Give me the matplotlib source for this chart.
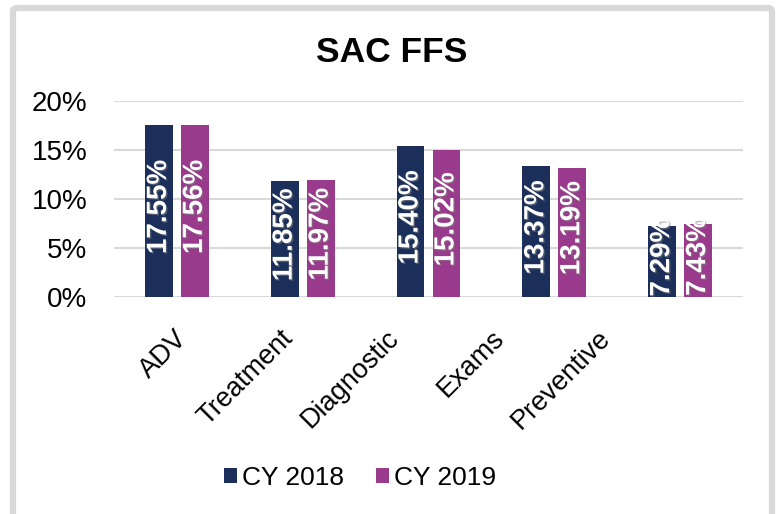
import matplotlib.pyplot as plt
import matplotlib.patheffects as pe
from matplotlib.patches import FancyBboxPatch
from matplotlib.ticker import PercentFormatter
from matplotlib.transforms import ScaledTranslation
import numpy as np

plt.rcParams['font.family'] = ['Liberation Sans', 'DejaVu Sans']

categories = ['ADV', 'Treatment', 'Diagnostic', 'Exams', 'Preventive']
cy2018 = np.array([17.55, 11.85, 15.40, 13.37, 7.29]) / 100
cy2019 = np.array([17.56, 11.97, 15.02, 13.19, 7.43]) / 100

navy = '#1B2F5A'
purple = '#993A8C'
grid_gray = '#D9D9D9'

fig = plt.figure(figsize=(7.78, 5.14), dpi=100)
ax = fig.add_axes([0.1465, 0.4222, 0.8085, 0.3813])

# outer chart border (bottom edge runs off the image)
border = FancyBboxPatch((13 / 778, -0.05), 759 / 778, 1.05 - 8 / 514,
                        boxstyle='round,pad=0,rounding_size=0.006',
                        transform=fig.transFigure, facecolor='none',
                        edgecolor=grid_gray, linewidth=4.5, zorder=0)
fig.patches.append(border)

x = np.arange(len(categories))
width = 0.222
off = 0.143
b1 = ax.bar(x - off, cy2018, width, color=navy, label='CY 2018', zorder=3)
b2 = ax.bar(x + off, cy2019, width, color=purple, label='CY 2019', zorder=3)

shadow = [pe.withSimplePatchShadow(offset=(1, -1), shadow_rgbFace='#808080', alpha=0.5)]
for bars in (b1, b2):
    for rect in bars:
        h = rect.get_height()
        ax.annotate(f'{h * 100:.2f}%',
                    xy=(rect.get_x() + rect.get_width() / 2, h / 2),
                    xytext=(0, 3), textcoords='offset points',
                    rotation=90, ha='center', va='center',
                    color='white', fontsize=20, fontweight='bold',
                    path_effects=shadow, zorder=4)

ax.set_xlim(-0.5, len(categories) - 0.5)
ax.set_ylim(0, 0.20)
ax.set_yticks(np.arange(0, 0.201, 0.05))
ax.yaxis.set_major_formatter(PercentFormatter(1.0, decimals=0))
ax.yaxis.grid(True, color=grid_gray, linewidth=1.5)
ax.set_axisbelow(True)
for s in ax.spines.values():
    s.set_visible(False)

ax.tick_params(axis='y', length=0, pad=19, labelsize=20)
ax.tick_params(axis='x', length=0, pad=27, labelsize=19.5)
ax.set_xticks(x)
labels = ax.set_xticklabels(categories, rotation=45, ha='right', va='center',
                            rotation_mode='anchor')
# the category labels drift left of their bars, as in the original chart
for i, lab in enumerate(labels):
    dx = (5 - 14.5 * i) / 72
    lab.set_transform(lab.get_transform() + ScaledTranslation(dx, 0, fig.dpi_scale_trans))

fig.suptitle('SAC FFS', x=0.504, y=0.93, fontsize=25.5, fontweight='bold')

fig.legend(loc='center', bbox_to_anchor=(0.463, 0.07), ncol=2, frameon=False,
           fontsize=19, handlelength=0.5, handleheight=0.5, handletextpad=0.2,
           columnspacing=1.2)

fig.savefig('out.png', dpi=100, facecolor='white')
